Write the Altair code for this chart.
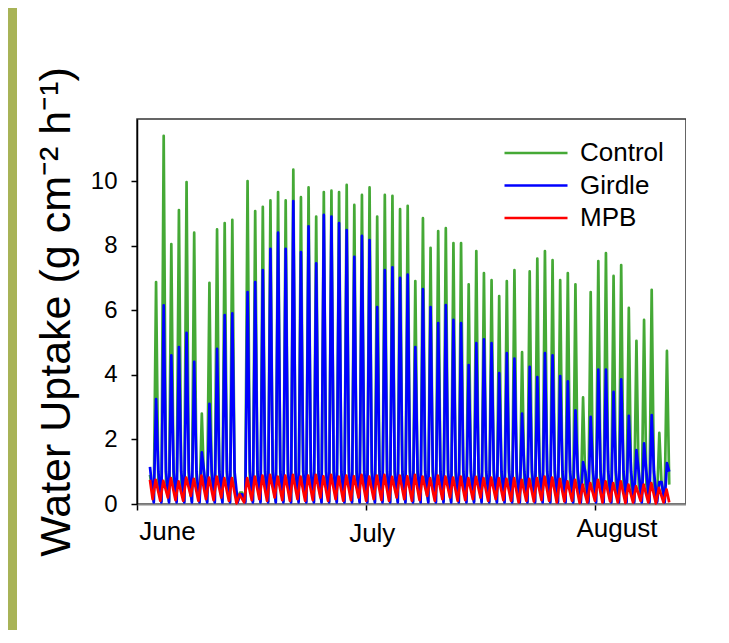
import altair as alt
import pandas as pd

# ---- data (one diurnal cycle per day) ----
series_names = ["Control", "Girdle", "MPB"]
series_colors = ["#45a936", "#0000ff", "#ff0000"]

# day (from 1 June) of the first daily peak; one value per following day
first_peak_day = 2.5

control_peak = [
    6.87, 11.4, 8.05, 9.1, 9.97, 8.4, 2.8, 6.85, 8.5, 8.7,
    8.8, 0.35, 10.0, 9.07, 9.2, 9.4, 9.66, 9.4, 10.35, 9.5,
    9.8, 8.9, 9.66, 9.7, 9.66, 9.88, 9.26, 9.57, 9.8, 8.9,
    9.57, 9.54, 9.13, 9.23, 6.9, 8.85, 7.93, 8.45, 8.54, 8.08,
    8.08, 6.8, 7.83, 7.15, 6.93, 6.44, 6.9, 7.24, 4.7, 7.2,
    7.6, 7.83, 7.55, 6.93, 7.15, 6.8, 3.3, 6.56, 7.52, 7.77,
    7.06, 7.4, 6.07, 5.05, 5.7, 6.63, 2.2, 4.74,
]
girdle_peak = [
    3.25, 6.15, 4.6, 4.86, 5.3, 4.4, 1.6, 3.1, 4.8, 5.85,
    5.9, 0.3, 6.56, 6.87, 7.24, 7.9, 8.4, 7.9, 9.38, 7.8,
    8.6, 7.45, 8.95, 8.9, 8.7, 8.48, 7.65, 8.3, 8.17, 6.1,
    7.24, 7.33, 7.0, 7.1, 4.86, 6.65, 6.1, 5.6, 6.16, 5.7,
    5.6, 4.3, 4.98, 5.1, 4.98, 4.05, 4.67, 4.5, 2.8, 4.25,
    3.93, 4.67, 4.6, 3.96, 3.8, 2.9, 1.3, 2.7, 4.16, 4.16,
    3.47, 3.86, 2.73, 1.67, 1.88, 2.75, 0.68, 1.27,
]
mpb_peak = [
    0.75, 0.72, 0.8, 0.7, 0.82, 0.78, 0.88, 0.82, 0.85, 0.8,
    0.8, 0.3, 0.8, 0.85, 0.88, 0.9, 0.85, 0.88, 0.9, 0.85,
    0.88, 0.9, 0.86, 0.9, 0.85, 0.88, 0.86, 0.9, 0.85, 0.88,
    0.9, 0.84, 0.88, 0.86, 0.9, 0.85, 0.8, 0.88, 0.85, 0.82,
    0.85, 0.8, 0.84, 0.8, 0.82, 0.8, 0.78, 0.8, 0.75, 0.78,
    0.8, 0.85, 0.82, 0.78, 0.7, 0.75, 0.6, 0.65, 0.75, 0.7,
    0.65, 0.7, 0.6, 0.55, 0.6, 0.65, 0.5, 0.45,
]
mpb_night = [
    0.15, 0.1, 0.2, 0.12, 0.1, 0.25, 0.1, 0.15, 0.12, 0.2,
    0.1, 0.02, 0.05, 0.12, 0.15, 0.1, 0.2, 0.12, 0.1, 0.15,
    0.1, 0.12, 0.2, 0.1, 0.15, 0.1, 0.12, 0.2, 0.1, 0.15,
    0.12, 0.1, 0.2, 0.15, 0.1, 0.12, 0.25, 0.1, 0.15, 0.2,
    0.1, 0.12, 0.15, 0.2, 0.1, 0.15, 0.12, 0.1, 0.05, 0.1,
    0.08, 0.12, 0.1, 0.05, 0.08, 0.1, 0.03, 0.05, 0.1, 0.05,
    0.08, 0.05, 0.03, 0.05, 0.1, 0.05, 0.02, 0.05,
]
# night / evening levels of the two sap-flow series
control_night, control_evening = 0.08, 0.6
girdle_night, girdle_evening = 0.05, 1.0
# start of record (day, value) per series
start_day = 1.7
start_values = {"Control": 0.9, "Girdle": 1.15, "MPB": 0.75}

month_ticks = [0, 30, 60]
month_labels = ["June", "July", "August"]
y_ticks = [0, 2, 4, 6, 8, 10]

# ---- build long table ----
rows = []
for name in series_names:
    rows.append((start_day, name, start_values[name]))
for k in range(len(control_peak)):
    p = first_peak_day + k
    rows.append((p - 0.3, "Control", control_night))
    rows.append((p, "Control", control_peak[k]))
    rows.append((p + 0.3, "Control", min(control_evening, control_peak[k])))
    rows.append((p - 0.3, "Girdle", girdle_night))
    rows.append((p, "Girdle", girdle_peak[k]))
    rows.append((p + 0.3, "Girdle", min(girdle_evening, girdle_peak[k])))
    rows.append((p - 0.45, "MPB", mpb_night[k]))
    rows.append((p - 0.05, "MPB", mpb_peak[k]))
last = first_peak_day + len(control_peak) - 1
rows.append((last + 0.3, "MPB", mpb_night[-1]))
df = pd.DataFrame(rows, columns=["day", "series", "value"]).sort_values(["series", "day"])

FONT = "Liberation Sans, Arial, Helvetica, sans-serif"
label_js = "{" + ",".join(f"'{v}':'{l}'" for v, l in zip(month_ticks, month_labels)) + "}"

lines = alt.Chart(df).mark_line(strokeWidth=2.7, strokeJoin="round").encode(
    x=alt.X(
        "day:Q",
        scale=alt.Scale(domain=[0, 72], nice=False, zero=False),
        axis=alt.Axis(
            values=month_ticks,
            labelExpr=f"{label_js}[''+datum.value]",
            title=None,
            grid=False,
            tickSize=6,
            tickColor="black",
            tickWidth=1.5,
            domainColor="#888888",
            domainWidth=2,
            labelFont=FONT,
            labelFontSize=26,
            labelColor="black",
            labelAlign="center",
            labelBaseline="top",
            labelOffset={"condition": [{"test": "datum.value == 0", "value": 30},
                                       {"test": "datum.value == 30", "value": 6}],
                         "value": 22},
            labelPadding={"condition": [{"test": "datum.value == 0", "value": 8},
                                        {"test": "datum.value == 30", "value": 10}],
                          "value": 5},
        ),
    ),
    y=alt.Y(
        "value:Q",
        scale=alt.Scale(domain=[0, 11.92], nice=False),
        axis=alt.Axis(
            values=y_ticks,
            title="Water Uptake (g cm\u207b\u00b2 h\u207b\u00b9)",
            titleFont=FONT,
            titleFontSize=43,
            titleFontWeight="normal",
            titleColor="black",
            titlePadding=12,
            grid=False,
            tickSize=6,
            tickColor="black",
            tickWidth=1.5,
            domainColor="black",
            domainWidth=1.5,
            labelFont=FONT,
            labelFontSize=24,
            labelColor="black",
            labelPadding=14,
        ),
    ),
    color=alt.Color(
        "series:N",
        scale=alt.Scale(domain=series_names, range=series_colors),
        legend=alt.Legend(
            orient="none",
            legendX=386,
            legendY=21,
            title=None,
            symbolType="M-3,0H3",
            symbolSize=441,
            symbolStrokeWidth=2.5,
            labelFont=FONT,
            labelFontSize=26,
            labelColor="black",
            labelOffset=31,
            rowPadding=6.5,
            padding=0,
        ),
    ),
)

band = alt.Chart(pd.DataFrame({"k": [0]})).mark_rect(color="#a8b357").encode(
    x=alt.value(-129), x2=alt.value(-120), y=alt.value(-111), y2=alt.value(511)
)

chart = alt.layer(band, lines).properties(
    width=549, height=385, padding=0, background="white"
).configure_view(stroke="#333333", strokeWidth=1.5)

chart.save("out.html", embed_options={"renderer": "svg", "actions": False})
